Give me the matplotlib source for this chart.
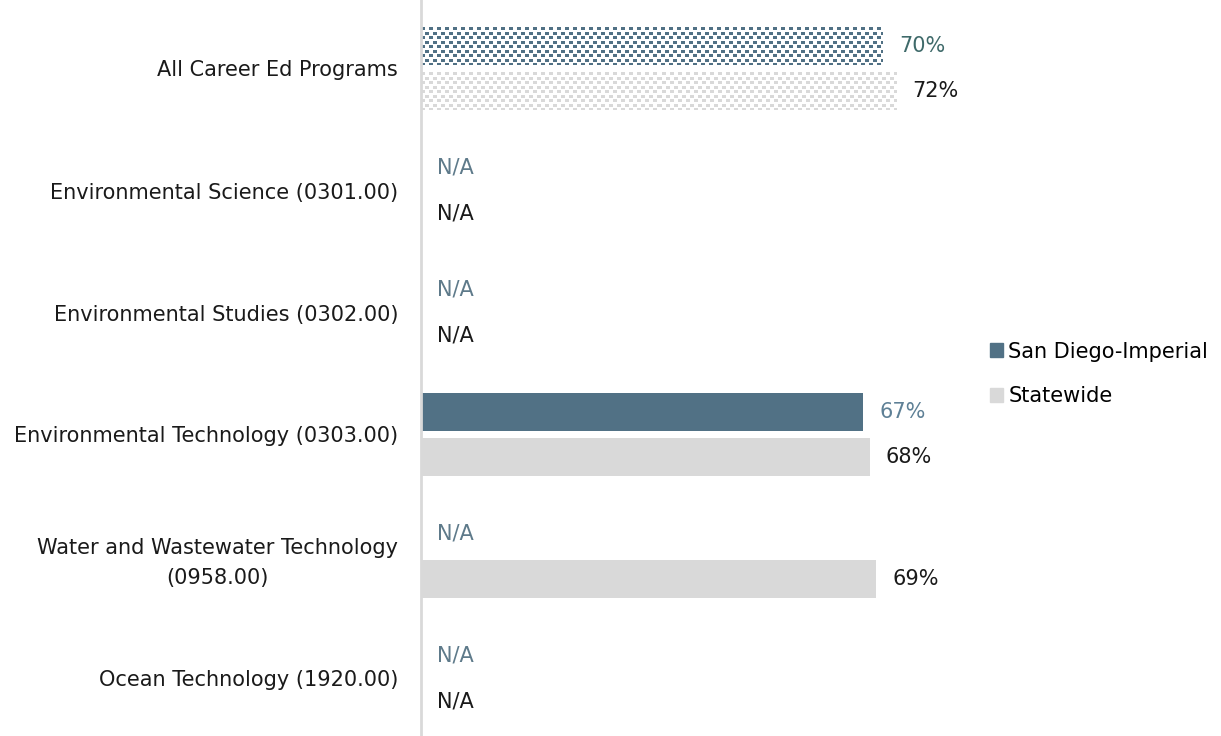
import matplotlib
matplotlib.use("Agg")
from matplotlib import pyplot as plt
from matplotlib.patches import Patch
from matplotlib.lines import Line2D
from matplotlib.colors import ListedColormap
import numpy as np

plt.rcParams['font.family'] = ['DejaVu Sans']

categories = ["All Career Ed Programs",
              "Environmental Science (0301.00)",
              "Environmental Studies (0302.00)",
              "Environmental Technology (0303.00)",
              "Water and Wastewater Technology\n(0958.00)",
              "Ocean Technology (1920.00)"]
regional = [70, None, None, 67, None, None]
statewide = [72, None, None, 68, 69, None]
series_names = ["San Diego-Imperial", "Statewide"]

c_reg = '#517185'
c_state = '#d9d9d9'
fs = 15
px_per_unit = 6.6   # pixels per percentage point
row_px = 122.0      # pixels per category


def checker_bar(ax, yc, val, height, color):
    # small offset-block texture, like the pattern fill in the original
    nx = int(round(val * px_per_unit))
    ny = int(round(height * row_px))
    ii, jj = np.indices((ny, nx))
    a = ((ii % 9) < 3) & ((jj % 8) < 4)
    b = ((ii % 9) >= 5) & ((ii % 9) < 8) & ((jj % 8) >= 4)
    tex = (a | b).astype(int)
    ax.imshow(tex, cmap=ListedColormap(['white', color]), vmin=0, vmax=1,
              extent=(0, val, yc + height / 2, yc - height / 2),
              interpolation='nearest', aspect='auto', zorder=2)


fig = plt.figure(figsize=(12.21, 7.36), dpi=100)
ax = fig.add_axes([421 / 1221, -3.5 / 736, 540 / 1221, 732 / 736])

y = np.arange(len(categories))
off = 0.185
h = 0.31

for i, (r, s) in enumerate(zip(regional, statewide)):
    yr = y[i] - off
    ys = y[i] + off
    if r is not None:
        if i == 0:
            checker_bar(ax, yr, r, h, c_reg)
        else:
            ax.barh(yr, r, height=h, color=c_reg, linewidth=0)
        ax.text(r + 2.4, yr, f"{r}%", va='center', ha='left', fontsize=fs,
                color='#3f6a6a' if i == 0 else '#5e8096')
    else:
        ax.text(2.4, yr, "N/A", va='center', ha='left', fontsize=fs, color='#5e7a8a')
    if s is not None:
        if i == 0:
            checker_bar(ax, ys, s, h, c_state)
        else:
            ax.barh(ys, s, height=h, color=c_state, linewidth=0)
        ax.text(s + 2.4, ys, f"{s}%", va='center', ha='left', fontsize=fs, color='#1a1a1a')
    else:
        ax.text(2.4, ys, "N/A", va='center', ha='left', fontsize=fs, color='#1a1a1a')

ax.set_ylim(len(categories) - 0.5, -0.5)
ax.set_xlim(0, 540 / px_per_unit)
ax.set_yticks(y)
ax.set_yticklabels(categories, fontsize=fs, color='#1a1a1a', multialignment='center',
                   linespacing=1.6)
ax.tick_params(axis='y', length=0, pad=16.5)
ax.set_xticks([])
for side in ['top', 'right', 'bottom', 'left']:
    ax.spines[side].set_visible(False)
fig.add_artist(Line2D([421 / 1221, 421 / 1221], [0, 1], color='#d9d9d9', lw=2,
                      transform=fig.transFigure))

handles = [Patch(color=c_reg, label=series_names[0]), Patch(color=c_state, label=series_names[1])]
fig.legend(handles=handles, loc='center left', bbox_to_anchor=(971 / 1221, 1 - 374 / 736),
           frameon=False, fontsize=fs, handlelength=0.65, handleheight=0.65,
           handletextpad=0.25, labelspacing=1.2)

fig.savefig("out.png", dpi=100)
